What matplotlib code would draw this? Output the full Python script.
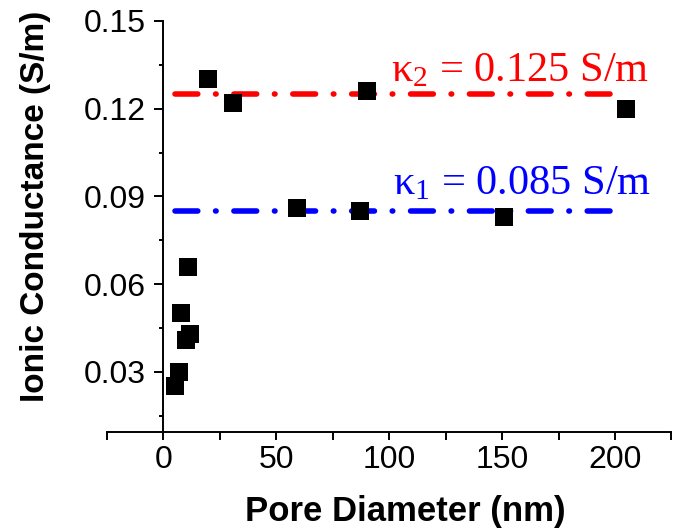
import matplotlib
matplotlib.use("Agg")
import matplotlib.pyplot as plt
from matplotlib.ticker import MultipleLocator, FormatStrFormatter

# Data
pore_diameter = [5.0, 7.0, 7.9, 9.9, 10.9, 11.9, 19.8, 30.9, 59.0, 87.1, 90.0, 150.8, 205.0]
conductance = [0.025, 0.030, 0.050, 0.041, 0.066, 0.043, 0.130, 0.122, 0.086, 0.085, 0.126, 0.083, 0.120]

kappa1 = 0.085
kappa2 = 0.125
fit_x = [5, 200]

x_ticks = [0, 50, 100, 150, 200]
y_ticks = [0.03, 0.06, 0.09, 0.12, 0.15]

plt.rcParams['mathtext.fontset'] = 'custom'
plt.rcParams['mathtext.rm'] = 'Liberation Serif'
plt.rcParams['mathtext.it'] = 'Liberation Serif:italic'

fig = plt.figure(figsize=(6.75, 5.31), dpi=100)
ax = fig.add_axes([0.1584, 0.1870, 0.8363, 0.7735])

ax.plot(pore_diameter, conductance, linestyle='none', marker='s', markersize=12.5,
        color='black', markeredgewidth=0, zorder=3)

dash = (4.1, 3.2, 0.1, 3.2)
ax.plot(fit_x, [kappa2, kappa2], color='#ff0000', linewidth=4, dashes=dash,
        dash_capstyle='round', zorder=2)
ax.plot(fit_x, [kappa1, kappa1], color='#0000ff', linewidth=4, dashes=dash,
        dash_capstyle='round', zorder=2)

ax.text(100.8, 0.1294, r'$\mathrm{κ}_2$ = 0.125 S/m', color='#ff0000',
        fontsize=30.5, family='Liberation Serif', ha='left', va='baseline')
ax.text(101.5, 0.0907, r'$\mathrm{κ}_1$ = 0.085 S/m', color='#0000ff',
        fontsize=30.5, family='Liberation Serif', ha='left', va='baseline')

ax.set_xlim(-25, 225)
ax.set_ylim(0.0095, 0.15)

ax.spines['top'].set_visible(False)
ax.spines['right'].set_visible(False)
ax.spines['left'].set_position(('data', 0))
for s in ['left', 'bottom']:
    ax.spines[s].set_linewidth(1.4)

ax.set_xticks(x_ticks)
ax.xaxis.set_minor_locator(MultipleLocator(25))
ax.set_yticks(y_ticks)
ax.yaxis.set_minor_locator(MultipleLocator(0.015))
ax.yaxis.set_major_formatter(FormatStrFormatter('%.2f'))

ax.tick_params(axis='x', which='major', direction='out', length=5.5, width=1.4,
               labelsize=23, pad=4)
ax.tick_params(axis='x', which='minor', direction='out', length=5.5, width=1.4)
ax.tick_params(axis='y', which='major', direction='out', length=6.5, width=1.4,
               labelsize=23, pad=6)
ax.tick_params(axis='y', which='minor', direction='out', length=3.2, width=1.4)
for lab in ax.get_xticklabels() + ax.get_yticklabels():
    lab.set_family('Liberation Sans')

fig.text(36/675, 1 - 206/531, 'Ionic Conductance (S/m)', rotation=90,
         fontsize=24, fontweight='bold', family='Liberation Sans',
         ha='center', va='center')
fig.text(405/675, 1 - 511/531, 'Pore Diameter (nm)', fontsize=25,
         fontweight='bold', family='Liberation Sans', ha='center', va='center')

fig.savefig('out.png', dpi=100)
